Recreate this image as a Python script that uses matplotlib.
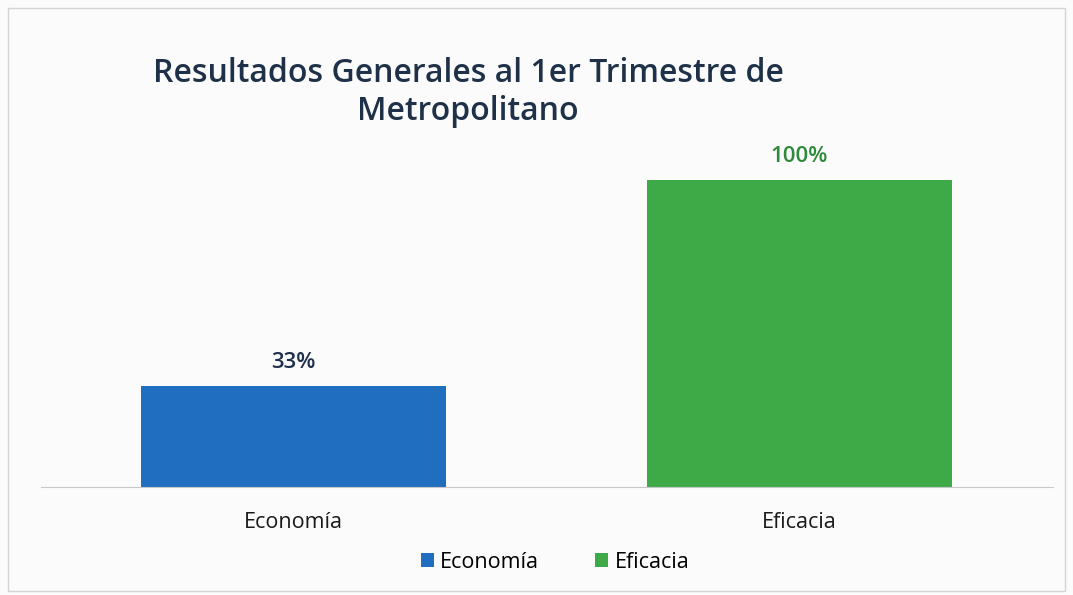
import matplotlib.pyplot as plt
from matplotlib.patches import Rectangle

categories = ["Economía", "Eficacia"]
values = [33, 100]
value_labels = ["33%", "100%"]
colors = ["#1f6ec0", "#3daa47"]
label_colors = ["#1d2f4a", "#2e8a3b"]

plt.rcParams["font.family"] = ["Open Sans", "DejaVu Sans"]

fig = plt.figure(figsize=(10.73, 5.95), dpi=100)
fig.patch.set_facecolor("#fbfbfb")
fig.patches.append(Rectangle((8 / 1073, 4 / 595), 1057 / 1073, 583 / 595,
                             transform=fig.transFigure, fill=False,
                             edgecolor="#d4d4d4", lw=1))

ax = fig.add_axes([40.5 / 1073, 108 / 595, 1012 / 1073, 338 / 595])
ax.set_facecolor("none")
x = range(len(categories))
bars = ax.bar(x, values, width=0.603, color=colors, label=categories)
for i, (v, lab) in enumerate(zip(values, value_labels)):
    ax.text(i, v + 4, lab, ha="center", va="bottom", fontsize=16,
            fontweight="semibold", color=label_colors[i])

ax.set_xlim(-0.5, 1.5)
ax.set_ylim(0, 110)
ax.set_yticks([])
ax.set_xticks(list(x))
ax.set_xticklabels(categories, fontsize=15.5, color="#1a1a1a")
ax.tick_params(axis="x", length=0, pad=18)
for s in ["top", "right", "left"]:
    ax.spines[s].set_visible(False)
ax.spines["bottom"].set_color("#c8c8c8")

fig.text(468 / 1073, 1 - 93 / 595, "Resultados Generales al 1er Trimestre de\nMetropolitano",
         ha="center", va="center", fontsize=23, fontweight="semibold",
         color="#1e3148", linespacing=1.2)

fig.legend(handles=bars, labels=categories, loc="center", ncol=2,
           bbox_to_anchor=(555 / 1073, 1 - 562 / 595), frameon=False,
           prop={"size": 15.5}, handlelength=0.6,
           handleheight=0.6, columnspacing=2.6, handletextpad=0.3)

fig.savefig("out.png", dpi=100, facecolor=fig.get_facecolor())
